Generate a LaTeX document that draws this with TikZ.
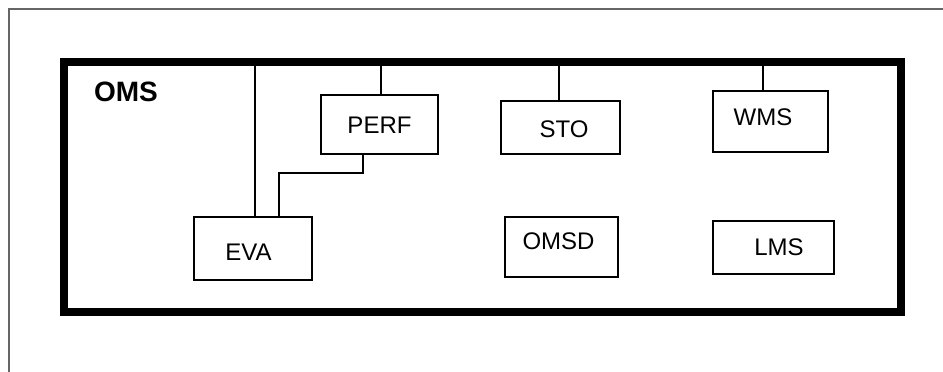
\documentclass[tikz,border=0pt]{standalone}
\usepackage{fontspec}
\setmainfont{Liberation Sans}

\tikzset{
    modbox/.style={draw, line width=1.6pt, inner sep=0pt},
    every label/.append style={font=\fontsize{24}{28}\selectfont, inner sep=0pt},
}

\begin{document}
\begin{tikzpicture}[x=1pt, y=-1pt, line width=1.4pt]
    \useasboundingbox (0,0) rectangle (943,372);

    % Outer frame (only top and left edge in view)
    \draw[line width=2pt, black!60] (9,372) -- (9,9) -- (943,9);

    % OMS frame
    \node[draw, line width=7.5pt, minimum width=837pt, minimum height=250pt] (oms) at (482.5,187) {};
    \node[font=\bfseries\fontsize{28}{32}\selectfont, inner sep=0pt] (omsname) at (126,92) {OMS};

    % Draw modules
    \node[modbox, minimum width=118pt, minimum height=63pt, label={[xshift=-4.5pt, yshift=-4pt]center:EVA}] (eva) at (253,248.5) {};
    \node[modbox, minimum width=117pt, minimum height=59pt, label={[yshift=-1pt]center:PERF}] (perf) at (379.5,124.5) {};
    \node[modbox, minimum width=119pt, minimum height=53pt, label={[xshift=3.5pt, yshift=-1.5pt]center:STO}] (sto) at (560.5,127.5) {};
    \node[modbox, minimum width=115pt, minimum height=61pt, label={[xshift=-7.5pt, yshift=4pt]center:WMS}] (wms) at (770.5,121.5) {};
    \node[modbox, minimum width=113pt, minimum height=60pt, label={[xshift=-3pt, yshift=5.5pt]center:OMSD}] (omsd) at (561.5,247) {};
    \node[modbox, minimum width=121pt, minimum height=53pt, label={[xshift=5.5pt]center:LMS}] (lms) at (773.5,247.5) {};

    % Draw connections
    \draw ([xshift=2pt]eva.north) -- ([xshift=2pt]eva.north |- oms.north);
    \draw ([xshift=1.5pt]perf.north) -- ([xshift=1.5pt]perf.north |- oms.north);
    \draw ([xshift=-1.5pt]sto.north) -- ([xshift=-1.5pt]sto.north |- oms.north);
    \draw ([xshift=-7.5pt]wms.north) -- ([xshift=-7.5pt]wms.north |- oms.north);
    \draw ([xshift=-16.5pt]perf.south) -- ++(0,18) -| ([xshift=26pt]eva.north);
\end{tikzpicture}
\end{document}
